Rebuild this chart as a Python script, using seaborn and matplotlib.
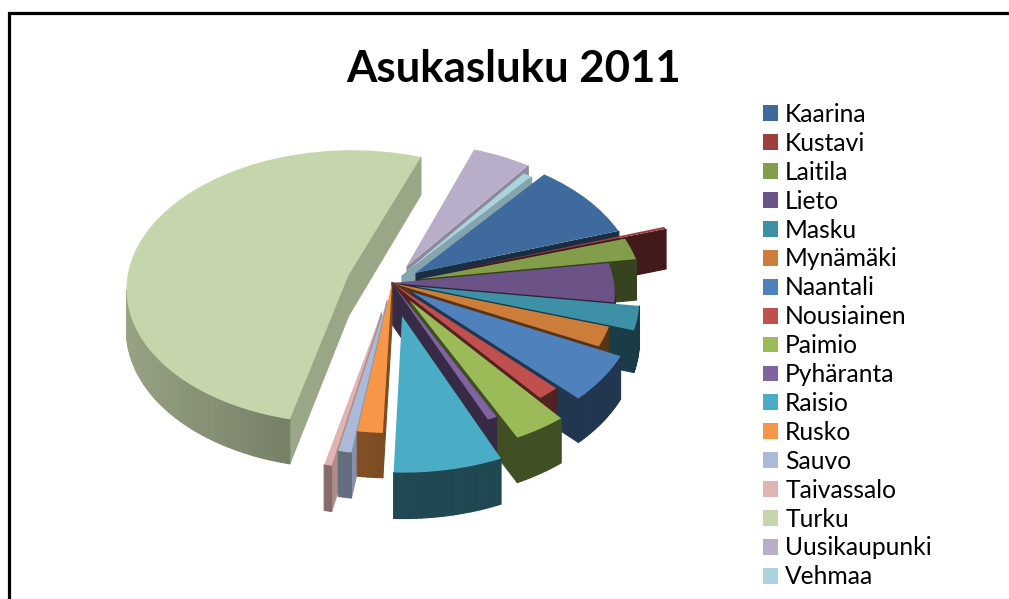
import numpy as np
import matplotlib
matplotlib.use("Agg")
import matplotlib.pyplot as plt
import seaborn as sns
from matplotlib.collections import PolyCollection
from matplotlib.transforms import Transform
from matplotlib.colors import to_rgb

municipalities = ["Kaarina", "Kustavi", "Laitila", "Lieto", "Masku", "Mynämäki", "Naantali",
                  "Nousiainen", "Paimio", "Pyhäranta", "Raisio", "Rusko", "Sauvo",
                  "Taivassalo", "Turku", "Uusikaupunki", "Vehmaa"]
population = [31000, 900, 8800, 15800, 9600, 8000, 18800, 5200, 12200, 2200, 24500,
              5800, 3000, 1700, 178600, 16000, 2400]
slice_offset = [0.13, 0.34, 0.13, 0.0, 0.11, 0.0, 0.11, 0.0, 0.15, 0.0, 0.24,
                0.0, 0.13, 0.22, 0.205, 0.14, 0.07]
colours = ["#3f6a9e", "#9e3f3d", "#829e4a", "#6b5287", "#3e90a6", "#cc7d3a", "#4f81bd",
           "#c0504d", "#9bbb59", "#8064a2", "#4bacc6", "#f79646", "#aabad7",
           "#e0b4b0", "#c6d6ac", "#b9aec9", "#a9d3de"]

sns.set_theme(style="white")
plt.rcParams["font.family"] = ["Lato", "DejaVu Sans"]
palette = sns.color_palette(colours)

CX, CY, R, B, K, DEPTH = 392.0, 283.0, 222.0, 137.0, 0.0867, 41.0


def project(x, y, z=0.0):
    s = 1.0 / (1.0 + K * y)
    return CX + x * R * s, CY - y * B * s + z * s


class Tilt(Transform):
    input_dims = output_dims = 2
    is_separable = False
    has_inverse = False

    def transform_non_affine(self, xy):
        xy = np.asarray(xy, dtype=float)
        return np.column_stack(project(xy[:, 0], xy[:, 1]))


fig = plt.figure(figsize=(10.09, 5.99), dpi=100, facecolor="white")
ax = fig.add_axes([0, 0, 1, 1])
wedges, _ = ax.pie(population, explode=slice_offset, colors=palette, startangle=51,
                   counterclock=False, wedgeprops={"linewidth": 0})
ax.set_aspect("auto")
ax.set_xlim(0, 1009)
ax.set_ylim(599, 0)
ax.axis("off")

tilt = Tilt() + ax.transData


def ground_mid(w):
    return np.sin(np.deg2rad((w.theta1 + w.theta2) / 2))


order = sorted(range(len(wedges)), key=lambda i: -ground_mid(wedges[i]))
for rank, i in enumerate(order):
    w = wedges[i]
    w.set_transform(tilt)
    w.set_clip_on(False)
    base = np.array(to_rgb(palette[i]))
    if base.min() > 0.6:
        radial_f, arc_f = 0.78, 0.55
    elif base[0] > 0.9:
        radial_f, arc_f = 0.5, 0.5
    else:
        radial_f, arc_f = 0.42, 0.42

    t = np.deg2rad(np.linspace(w.theta1, w.theta2, max(4, int(w.theta2 - w.theta1))))
    cx, cy = w.center
    px = np.r_[cx, cx + w.r * np.cos(t), cx]
    py = np.r_[cy, cy + w.r * np.sin(t), cy]
    quads, cols, keys = [], [], []
    for j in range(len(px) - 1):
        xa, ya, xb, yb = px[j], py[j], px[j + 1], py[j + 1]
        a0, a1 = project(xa, ya, 0), project(xb, yb, 0)
        if a1[0] <= a0[0]:
            continue
        b1, b0 = project(xb, yb, DEPTH), project(xa, ya, DEPTH)
        quads.append([a0, a1, b1, b0])
        if j == 0 or j == len(px) - 2:
            f = radial_f
        else:
            nx = np.cos((t[j - 1] + t[j]) / 2)
            f = arc_f * (1 + 0.4 * max(0.0, -nx))
        cols.append(np.clip(base * f, 0, 1))
        keys.append(-(ya + yb) / 2)
    idx = np.argsort(keys)
    quads = [quads[q] for q in idx]
    cols = [cols[q] for q in idx]
    ax.add_collection(PolyCollection(quads, facecolors=cols, edgecolors=cols, linewidths=0.8,
                                     zorder=10 + 2 * rank, clip_on=False), autolim=False)
    w.set_zorder(11 + 2 * rank)

ax.plot([9, 9, 1009], [599, 13, 13], color="black", lw=2.3, zorder=1, solid_joinstyle="miter")

ax.text(514, 69, "Asukasluku 2011", ha="center", va="center", fontsize=31.5,
        fontweight="bold", color="black")

leg = ax.legend(wedges, municipalities, loc="upper left", bbox_to_anchor=(763 / 1009, 1 - 103 / 599),
                bbox_transform=fig.transFigure, frameon=False, fontsize=17.7, labelspacing=0.24,
                handlelength=0.61, handleheight=0.61, handletextpad=0.29, borderpad=0, borderaxespad=0)
for txt in leg.get_texts():
    txt.set_color("black")

fig.savefig("out.png", dpi=100)
